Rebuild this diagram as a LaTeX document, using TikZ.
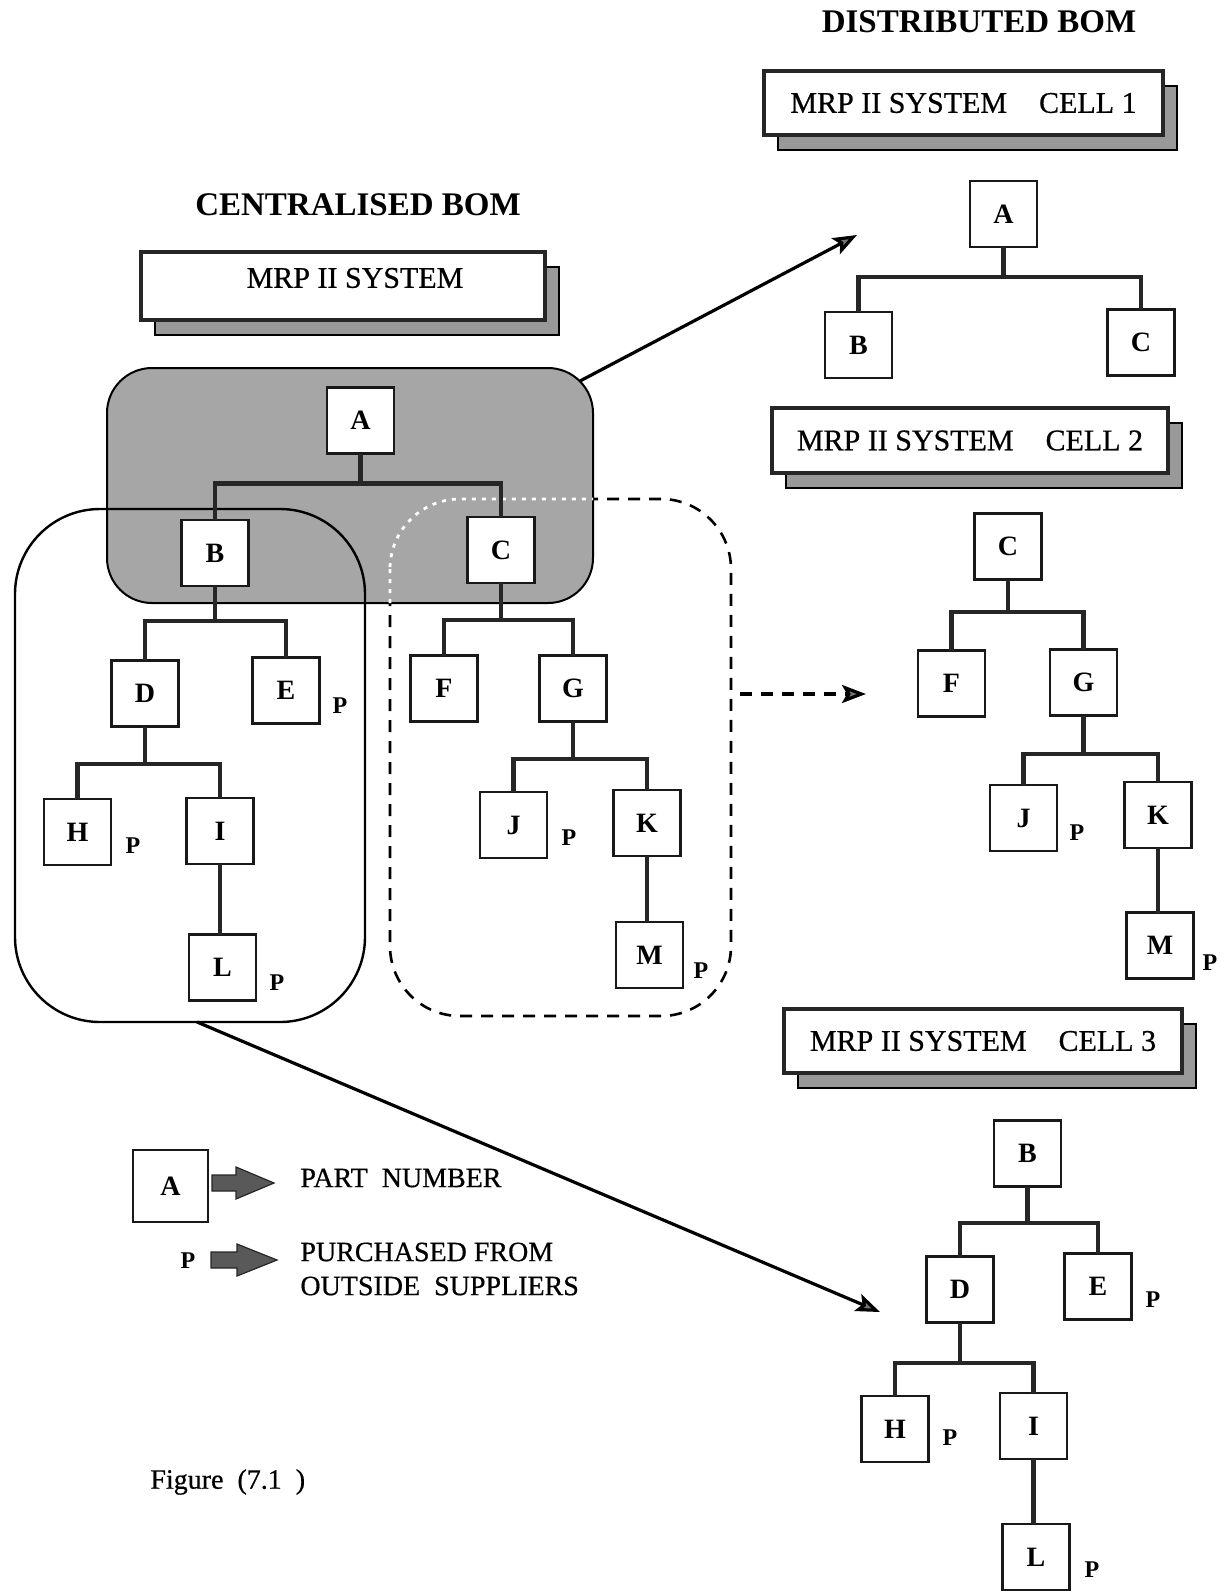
\documentclass[tikz,border=0pt]{standalone}
\usepackage{fontspec}
\setmainfont{Liberation Serif}
\newfontfamily\heavyserif[FakeBold=0.6]{Liberation Serif}
\usetikzlibrary{arrows.meta,shadows}

\begin{document}
\begin{tikzpicture}[x=0.5pt,y=-0.5pt,
  part/.style={draw=black!90, line width=1.4pt, fill=white, minimum width=33.5pt,
    minimum height=33pt, inner sep=0pt, outer sep=0pt,
    font=\fontsize{14}{16}\selectfont\bfseries},
  buy/.style={inner sep=0pt, font=\fontsize{12}{14}\selectfont\bfseries},
  link/.style={draw=black!85, line width=2.3pt},
  heading/.style={inner sep=0pt, font=\fontsize{16.5}{19}\selectfont\bfseries},
  sysbox/.style={draw=black!85, line width=2pt, fill=white, inner sep=0pt,
    font=\fontsize{15}{17}\heavyserif,
    drop shadow={shadow xshift=7pt, shadow yshift=-7.5pt, opacity=1,
      fill=black!40, draw=black, line width=0.8pt}},
  systext/.style={inner sep=0pt, font=\fontsize{15}{17}\heavyserif},
  legendtext/.style={inner sep=0pt, anchor=west, align=left,
    font=\fontsize{14}{17}\heavyserif},
  shaded/.style={draw=black, line width=1pt, fill=black!35, rounded corners=22.5pt,
    inner sep=0pt, outer sep=0pt},
  groupline/.style={draw=black, line width=1.2pt, rounded corners=42.5pt,
    inner sep=0pt, outer sep=0pt},
  groupdash/.style={draw=black, line width=1.3pt, dash pattern=on 6pt off 4.5pt,
    rounded corners=35pt, inner sep=0pt, outer sep=0pt},
  moveto/.style={draw=black, line width=1.6pt,
    -{Stealth[length=12pt,width=9pt,inset=2.5pt,fill=black!55]}},
  blockarrow/.style={fill=black!65, draw=black!85, line width=0.6pt},
]
\useasboundingbox (0,0) rectangle (1228,1592);

% ---------------- headings ----------------
\node[heading] (hcent) at (358,205) {CENTRALISED BOM};
\node[heading] (hdist) at (979,22) {DISTRIBUTED BOM};

% ---------------- system boxes ----------------
\node[sysbox, minimum width=202pt, minimum height=34pt] (sys0) at (343,286) {};
\node[systext] (sys0t) at (355,278) {MRP II SYSTEM};
\node[sysbox, minimum width=199.5pt, minimum height=32pt] (sys1) at (963.5,103)
  {MRP II SYSTEM\hspace{16pt}CELL 1};
\node[sysbox, minimum width=198pt, minimum height=32.5pt] (sys2) at (970,440.5)
  {MRP II SYSTEM\hspace{16pt}CELL 2};
\node[sysbox, minimum width=199pt, minimum height=32pt] (sys3) at (983,1041)
  {MRP II SYSTEM\hspace{16pt}CELL 3};

% ---------------- groupings of the central structure ----------------
\node[groupdash, minimum width=170.5pt, minimum height=258.5pt] (grpC) at (560.5,757.5) {};
\node[shaded, minimum width=243pt, minimum height=117.5pt] (grpA) at (350,485.5) {};
\begin{scope}
  \clip[rounded corners=22.5pt] (grpA.north west) rectangle (grpA.south east);
  \draw[white, line width=1.4pt, dash pattern=on 2pt off 3pt, rounded corners=35pt]
    (grpC.north west) rectangle (grpC.south east);
\end{scope}
\node[groupline, minimum width=175pt, minimum height=256.5pt] (grpB) at (190,765.5) {};

% ---------------- centralised tree ----------------
\node[part] (lA) at (360.5,420.5) {A};
\node[part] (lB) at (215,553) {B};
\node[part] (lC) at (501,550) {C};
\node[part] (lD) at (145,693.5) {D};
\node[part] (lE) at (286,690.5) {E};
\node[part] (lH) at (77.5,832) {H};
\node[part] (lI) at (220,831) {I};
\node[part] (lL) at (222.5,967.5) {L};
\node[part] (lF) at (444,688.5) {F};
\node[part] (lG) at (573,688.5) {G};
\node[part] (lJ) at (513.5,825) {J};
\node[part] (lK) at (647,823) {K};
\node[part] (lM) at (649.5,955) {M};

\draw[link] (lA.south) -- ++(0,30) -| (lB.north);
\draw[link] (lA.south) -- ++(0,30) -| (lC.north);
\draw[link] (lB.south) -- ++(0,35) -| (lD.north);
\draw[link] (lB.south) -- ++(0,35) -| (lE.north);
\draw[link] (lD.south) -- ++(0,37.5) -| (lH.north);
\draw[link] (lD.south) -- ++(0,37.5) -| (lI.north);
\draw[link] (lI.south) -- (lI.south |- lL.north);
\draw[link] (lC.south) -- ++(0,37) -| (lF.north);
\draw[link] (lC.south) -- ++(0,37) -| (lG.north);
\draw[link] (lG.south) -- ++(0,37.5) -| (lJ.north);
\draw[link] (lG.south) -- ++(0,37.5) -| (lK.north);
\draw[link] (lK.south) -- (lK.south |- lM.north);

\node[buy] (pE) at (340,706) {P};
\node[buy] (pH) at (133,846) {P};
\node[buy] (pL) at (277,983) {P};
\node[buy] (pJ) at (569,838) {P};
\node[buy] (pM) at (701,971) {P};

% ---------------- cell 1 ----------------
\node[part] (rA) at (1003.5,214) {A};
\node[part] (rB) at (858.5,345) {B};
\node[part] (rC) at (1141,342.5) {C};
\draw[link] (rA.south) -- ++(0,30) -| (rB.north);
\draw[link] (rA.south) -- ++(0,30) -| (rC.north);

% ---------------- cell 2 ----------------
\node[part] (sC) at (1008,546.5) {C};
\node[part] (sF) at (951.5,683.5) {F};
\node[part] (sG) at (1083.5,682.5) {G};
\node[part] (sJ) at (1023.5,818) {J};
\node[part] (sK) at (1158,815) {K};
\node[part] (sM) at (1160,945.5) {M};
\draw[link] (sC.south) -- ++(0,32.5) -| (sF.north);
\draw[link] (sC.south) -- ++(0,32.5) -| (sG.north);
\draw[link] (sG.south) -- ++(0,38.5) -| (sJ.north);
\draw[link] (sG.south) -- ++(0,38.5) -| (sK.north);
\draw[link] (sK.south) -- (sK.south |- sM.north);
\node[buy] (qJ) at (1077,833) {P};
\node[buy] (qM) at (1210,963) {P};

% ---------------- cell 3 ----------------
\node[part] (tB) at (1027.5,1153.5) {B};
\node[part] (tD) at (960,1289.5) {D};
\node[part] (tE) at (1098,1286.5) {E};
\node[part] (tH) at (895,1429) {H};
\node[part] (tI) at (1033.5,1426) {I};
\node[part] (tL) at (1036,1557) {L};
\draw[link] (tB.south) -- ++(0,36.5) -| (tD.north);
\draw[link] (tB.south) -- ++(0,36.5) -| (tE.north);
\draw[link] (tD.south) -- ++(0,40.5) -| (tH.north);
\draw[link] (tD.south) -- ++(0,40.5) -| (tI.north);
\draw[link] (tI.south) -- (tI.south |- tL.north);
\node[buy] (uE) at (1153,1300) {P};
\node[buy] (uH) at (950,1438) {P};
\node[buy] (uL) at (1092,1570) {P};

% ---------------- distribution arrows ----------------
\coordinate (c1from) at (580,381);
\coordinate (c1to) at (857,235);
\coordinate (c2from) at (740,694);
\coordinate (c2to) at (866,694);
\coordinate (c3from) at (197,1022);
\coordinate (c3to) at (880,1312);
\draw[moveto] (c1from) -- (c1to);
\draw[moveto, dash pattern=on 6pt off 4.5pt] (c2from) -- (c2to);
\draw[moveto] (c3from) -- (c3to);

% ---------------- legend ----------------
\node[part, minimum width=37.5pt, minimum height=36pt, line width=1.2pt] (legA) at (170.5,1186) {A};
\draw[blockarrow] (212,1175) -- ++(24,0) -- ++(0,-8) -- ++(38,16) -- ++(-38,16)
  -- ++(0,-8) -- ++(-24,0) -- cycle;
\node[legendtext] (legpart) at (300,1178) {PART\ \ NUMBER};
\node[buy] (legP) at (188,1261) {P};
\draw[blockarrow] (211,1252) -- ++(26,0) -- ++(0,-8) -- ++(40,16) -- ++(-40,16)
  -- ++(0,-8) -- ++(-26,0) -- cycle;
\node[legendtext] (legbuy1) at (300,1252) {PURCHASED FROM};
\node[legendtext] (legbuy2) at (300,1286) {OUTSIDE\ \ SUPPLIERS};

% ---------------- caption ----------------
\node[legendtext] (fig) at (150,1482) {Figure\ \ (7.1\ \ )};
\end{tikzpicture}
\end{document}
